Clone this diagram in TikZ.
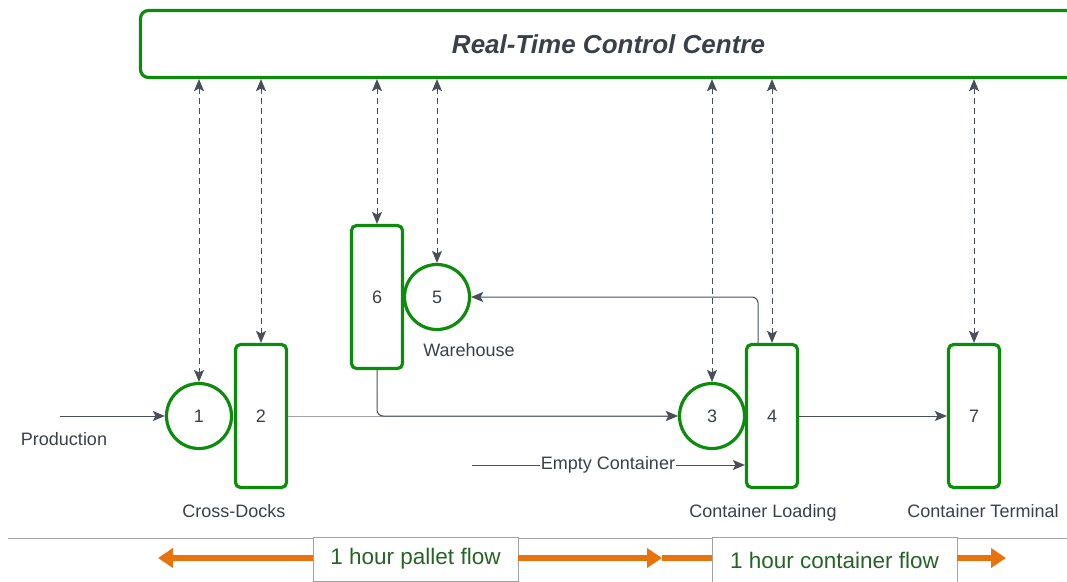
\documentclass[tikz,border=0pt]{standalone}
\usepackage{fontspec}
\setmainfont{Liberation Sans}
\usepackage{xcolor}
\usepackage{tikz}
\usetikzlibrary{arrows.meta,positioning,calc}

\definecolor{ccgreen}{RGB}{12,140,12}
\definecolor{txtgray}{RGB}{58,64,74}
\definecolor{arrgray}{RGB}{72,78,90}
\definecolor{lightgray}{RGB}{160,162,168}
\definecolor{flowgreen}{RGB}{38,100,38}
\definecolor{floworange}{RGB}{232,115,12}

\begin{document}
\begin{tikzpicture}[x=1pt, y=-1pt,
    every node/.style={font=\fontsize{18}{20}\selectfont, text=txtgray},
    station/.style={rectangle, draw=ccgreen, line width=3.2pt, rounded corners=5pt, minimum width=51pt, minimum height=143pt, inner sep=0pt},
    buffer/.style={circle, draw=ccgreen, line width=3.2pt, minimum size=65pt, inner sep=0pt},
    info/.style={draw=arrgray, line width=0.9pt, dash pattern=on 6pt off 4pt, {Stealth[length=12pt,width=10pt,inset=2.5pt]}-{Stealth[length=12pt,width=10pt,inset=2.5pt]}},
    flow/.style={draw=arrgray, line width=1pt, -{Stealth[length=12pt,width=10pt,inset=2.5pt]}},
    period/.style={rectangle, draw=lightgray, line width=0.8pt, fill=white, text=flowgreen, font=\fontsize{22.5}{24}\selectfont},
    span/.style={draw=floworange, line width=6pt}
]
\useasboundingbox (0,0) rectangle (1067,581);

% Control centre
\node[rectangle, draw=ccgreen, line width=3.2pt, rounded corners=8pt, minimum width=936pt, minimum height=67pt,
      font=\fontsize{26}{28}\selectfont\bfseries\itshape] (ctrl) at (608.5,44) {Real-Time Control Centre};

% Stations
\node[buffer] (buf1) at (199,416) {1};
\node[station] (st2) at (261,416) {2};
\node[station] (st6) at (377,297) {6};
\node[buffer] (buf5) at (437,297) {5};
\node[buffer] (buf3) at (712,416) {3};
\node[station] (st4) at (772,416) {4};
\node[station] (st7) at (974,416) {7};

% Labels
\node (prod) at (64,439) {Production};
\node (cross) at (234,511) {Cross-Docks};
\node (ware) at (469,350) {Warehouse};
\node (load) at (763,513) {Container Loading};
\node (term) at (983,511) {Container Terminal};
\node[inner sep=1pt] (empty) at (608,465) {Empty Container};
\coordinate (src) at (60,416);
\coordinate (esrc) at (472,465);

% Information links
\draw[info] (buf1.north |- ctrl.south) -- (buf1.north);
\draw[info] (st2.north |- ctrl.south) -- (st2.north);
\draw[info] (st6.north |- ctrl.south) -- (st6.north);
\draw[info] (buf5.north |- ctrl.south) -- (buf5.north);
\draw[info] (buf3.north |- ctrl.south) -- (buf3.north);
\draw[info] (st4.north |- ctrl.south) -- (st4.north);
\draw[info] (st7.north |- ctrl.south) -- (st7.north);

% Material flow
\draw[flow] (src) -- (buf1.west);
\draw[flow, draw=lightgray] (st2.east) -- (buf3.west);
\draw[flow, rounded corners=6pt] (st6.south) |- (buf3.west);
\draw[flow, rounded corners=6pt] ([xshift=-14pt]st4.north) |- (buf5.east);
\draw[flow] (st4.east) -- (st7.west);
\draw[arrgray, line width=1pt] (esrc) -- (empty.west);
\draw[flow] (empty.east) -- (st4.west |- empty.east);

% Time horizons
\draw[lightgray, line width=0.8pt] (8,538) -- (1067,538);
\node[period, minimum width=205pt, minimum height=44pt] (pallet) at (415.5,559) {1 hour pallet flow};
\node[period, minimum width=245pt, minimum height=46pt] (cont) at (834.5,560) {1 hour container flow};
\coordinate (ltip) at (158,558);
\coordinate (mtip) at (662,558);
\coordinate (rtip) at (1006,558);
\draw[span, {Triangle[length=15pt,width=19pt]}-] (ltip) -- (pallet.west |- ltip);
\draw[span, -{Triangle[length=15pt,width=19pt]}] (pallet.east |- mtip) -- (mtip);
\draw[span] (mtip) -- (cont.west |- mtip);
\draw[span, -{Triangle[length=15pt,width=19pt]}] (cont.east |- rtip) -- (rtip);

\end{tikzpicture}
\end{document}
